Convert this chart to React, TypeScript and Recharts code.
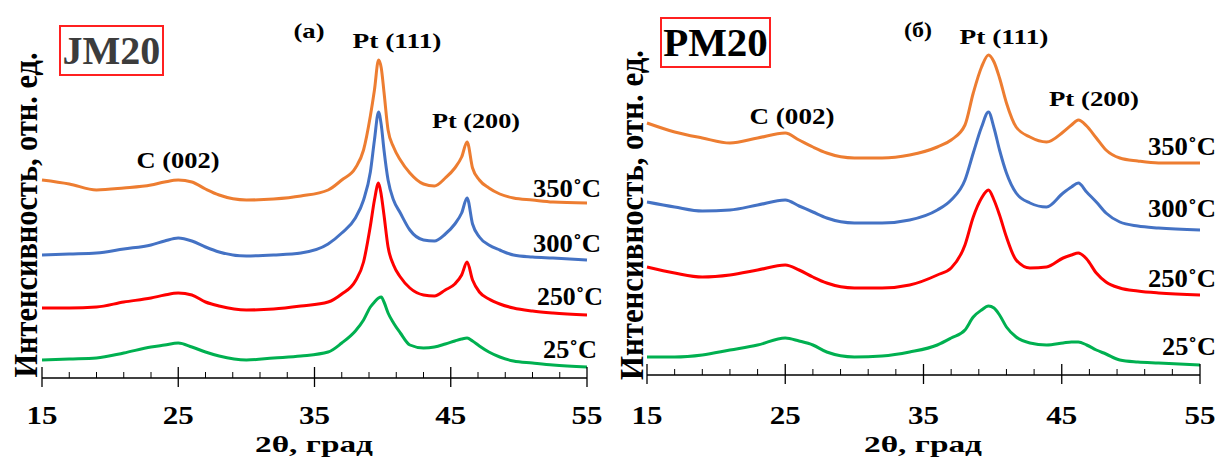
import { LineChart, Line, XAxis, YAxis } from 'recharts';

// 2θ sampling, left panel (JM20)
const jmTheta = [15, 17, 19, 21, 23, 24, 25, 26, 27, 28, 30, 32, 34, 36, 37, 38, 38.6, 39.1, 39.4, 39.7, 39.9, 40.1, 40.4, 40.8, 41.3, 42, 43, 43.8, 44.6, 45.3, 45.8, 46.2, 46.6, 47.1, 47.8, 48.6, 49.6, 51, 52.5, 55];
const jm350 = [198, 194, 188, 190, 193, 196, 198, 196, 189, 183, 178, 179, 182, 188, 198, 210, 228, 262, 288, 318, 310, 286, 248, 231, 218, 205, 194, 192, 200, 210, 221, 236, 210, 198, 190, 184, 180, 178, 176, 175];
const jm300 = [123, 124, 125, 129, 133, 137, 140, 137, 131, 126, 122, 123, 125, 134, 145, 160, 178, 206, 238, 266, 253, 228, 198, 178, 165, 148, 138, 137, 144, 154, 165, 180, 154, 141, 133, 128, 123, 121, 120, 118];
const jm250 = [70, 70, 71, 76, 80, 83, 85, 83, 76, 72, 68, 69, 72, 76, 84, 97, 116, 152, 178, 195, 183, 163, 131, 113, 101, 90, 83, 82, 88, 94, 103, 116, 98, 86, 79, 74, 70, 67, 65, 63];
const jm25 = [18, 19, 20, 25, 31, 33, 35, 31, 26, 22, 18, 20, 22, 26, 35, 47, 58, 71, 76, 80, 81, 76, 65, 55, 45, 33, 30, 31, 34, 37, 39, 40, 37, 32, 26, 21, 17, 15, 13, 11];

// 2θ sampling, right panel (PM20)
const pmTheta = [15, 17, 19, 21, 23, 25, 26, 27, 28, 30, 32, 34, 36, 37, 38, 38.6, 39.2, 39.7, 40.1, 40.5, 41, 41.7, 42.7, 43.9, 45.1, 45.7, 46.2, 46.8, 47.5, 48.2, 49.2, 50.5, 52, 55];
const pm350 = [252, 243, 237, 232, 237, 242, 235, 228, 222, 217, 217, 220, 228, 235, 250, 282, 308, 320, 313, 297, 272, 248, 238, 233, 243, 250, 255, 249, 237, 225, 217, 214, 212, 212];
const pm300 = [173, 168, 164, 165, 170, 175, 169, 163, 157, 152, 152, 155, 165, 175, 195, 222, 248, 263, 247, 225, 202, 182, 172, 168, 182, 188, 192, 183, 173, 162, 153, 149, 147, 145];
const pm250 = [108, 102, 98, 100, 105, 110, 105, 98, 92, 87, 87, 90, 100, 107, 130, 158, 177, 185, 175, 160, 138, 115, 107, 108, 117, 120, 122, 116, 102, 93, 87, 84, 82, 80];
const pm25 = [18, 18, 20, 25, 30, 37, 34, 30, 23, 18, 19, 23, 30, 37, 45, 58, 65, 69, 67, 60, 48, 38, 32, 30, 32, 33, 33, 30, 25, 21, 15, 13, 12, 10];

const tickValues = [15, 17, 19, 21, 23, 25, 27, 29, 31, 33, 35, 37, 39, 41, 43, 45, 47, 49, 51, 53, 55];
const majorTicks = [15, 25, 35, 45, 55];

const series = [
  { key: 't350', label: '350˚C', color: '#ED7D31' },
  { key: 't300', label: '300˚C', color: '#4472C4' },
  { key: 't250', label: '250˚C', color: '#FF0000' },
  { key: 't25', label: '25˚C', color: '#00B050' },
];

const FONT = "'Liberation Serif', 'Times New Roman', Times, 'DejaVu Serif', serif";

const toRows = (theta: number[], cols: number[][]) =>
  theta.map((t, i) => ({ theta: t, t350: cols[0][i], t300: cols[1][i], t250: cols[2][i], t25: cols[3][i] }));

const jmRows = toRows(jmTheta, [jm350, jm300, jm250, jm25]);
const pmRows = toRows(pmTheta, [pm350, pm300, pm250, pm25]);

function AxisTick(props: any) {
  const { x, y, payload, base } = props;
  const major = majorTicks.includes(payload.value);
  return (
    <g>
      {major
        ? <line x1={x} x2={x} y1={y - 11} y2={y + 9} stroke="#000" strokeWidth={1.3} />
        : <line x1={x} x2={x} y1={y - 6} y2={y} stroke="#000" strokeWidth={1} />}
      {major && (
        <text x={x} y={y + base} textAnchor="middle" textLength={31} lengthAdjust="spacingAndGlyphs"
          fontFamily={FONT} fontWeight={700} fontSize={25} fill="#000">
          {payload.value}
        </text>
      )}
    </g>
  );
}

// text stretched to the measured width, y is the baseline
function T({ x, y, size, w, children }: any) {
  return (
    <text x={x} y={y} textAnchor="middle" textLength={w} lengthAdjust="spacingAndGlyphs"
      fontFamily={FONT} fontWeight={700} fontSize={size} fill="#000">{children}</text>
  );
}

function YTitle({ x, len }: any) {
  return (
    <text transform={`translate(${x},215) scale(1.2,1) rotate(-90)`} textAnchor="middle" dominantBaseline="central"
      textLength={len} lengthAdjust="spacingAndGlyphs" fontFamily={FONT} fontWeight={700} fontSize={28} fill="#000">
      Интенсивность, отн. ед.
    </text>
  );
}

function Panel({ rows, margin, yTop, base, axisColor }: any) {
  return (
    <LineChart width={610} height={460} data={rows} margin={margin}>
      <XAxis type="number" dataKey="theta" domain={[15, 55]} ticks={tickValues} interval={0}
        tickSize={0} tickMargin={0} tickLine={false} height={30}
        axisLine={{ stroke: '#000', strokeWidth: 1.3 }} tick={<AxisTick base={base} />} />
      <YAxis type="number" domain={[0, yTop]} width={0} tick={false} tickLine={false}
        axisLine={{ stroke: axisColor, strokeWidth: 1.3 }} />
      {series.map(s => (
        <Line key={s.key} type="monotone" dataKey={s.key} stroke={s.color} strokeWidth={3}
          dot={false} isAnimationActive={false} />
      ))}
    </LineChart>
  );
}

const boxStyle = {
  position: 'absolute' as const, border: '2px solid #FF2020', display: 'flex',
  alignItems: 'center', justifyContent: 'center', fontFamily: FONT, fontWeight: 700, lineHeight: 1,
};

export default function App() {
  return (
    <div style={{ position: 'absolute', left: 0, top: 0, width: 1220, height: 460, background: '#fff', fontFamily: FONT }}>
      <div style={{ position: 'absolute', left: 0, top: 0 }}>
        <Panel rows={jmRows} margin={{ top: 30, right: 23, left: 42, bottom: 52 }} yTop={348} base={46} axisColor="#000" />
      </div>
      <div style={{ position: 'absolute', left: 610, top: 0 }}>
        <Panel rows={pmRows} margin={{ top: 25, right: 20, left: 37, bottom: 55 }} yTop={350} base={49} axisColor="#666" />
      </div>

      <div style={{ ...boxStyle, left: 59, top: 25, width: 101, height: 47, fontSize: 40, color: '#3c3c3c' }}>JM20</div>
      <div style={{ ...boxStyle, left: 660, top: 17, width: 107, height: 47, fontSize: 41, color: '#000' }}>PM20</div>

      <svg width={1220} height={460} style={{ position: 'absolute', left: 0, top: 0, pointerEvents: 'none' }}>
        {/* left panel */}
        <T x={309} y={38} size={22} w={31}>(a)</T>
        <T x={397} y={48} size={22} w={89}>Pt (111)</T>
        <T x={476} y={128} size={22} w={88}>Pt (200)</T>
        <T x={178} y={168} size={23} w={83}>C (002)</T>
        <T x={567} y={197} size={26} w={68}>{series[0].label}</T>
        <T x={567} y={252} size={26} w={68}>{series[1].label}</T>
        <T x={570} y={305} size={26} w={66}>{series[2].label}</T>
        <T x={570} y={358} size={26} w={54}>{series[3].label}</T>
        <T x={314} y={452} size={23} w={118}>2θ, град</T>
        <YTitle x={26} len={325} />

        {/* right panel */}
        <T x={918} y={37} size={22} w={28}>(б)</T>
        <T x={1004} y={44} size={22} w={89}>Pt (111)</T>
        <T x={1094} y={106} size={22} w={90}>Pt (200)</T>
        <T x={792} y={124} size={24} w={85}>C (002)</T>
        <T x={1182} y={155} size={26} w={68}>{series[0].label}</T>
        <T x={1182} y={217} size={26} w={68}>{series[1].label}</T>
        <T x={1182} y={287} size={26} w={68}>{series[2].label}</T>
        <T x={1189} y={355} size={26} w={54}>{series[3].label}</T>
        <T x={923} y={452} size={23} w={118}>2θ, град</T>
        <YTitle x={632} len={330} />
      </svg>
    </div>
  );
}
